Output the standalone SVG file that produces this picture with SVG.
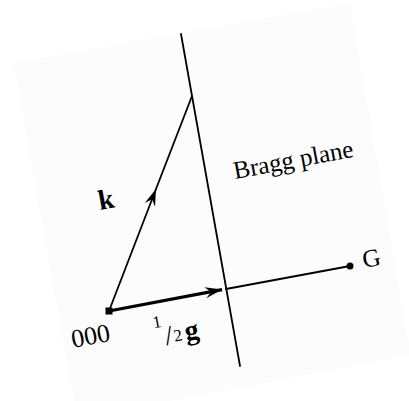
<svg xmlns="http://www.w3.org/2000/svg" width="409" height="401" viewBox="0 0 409 401">
<defs>
<style>
.ln{stroke:#000;stroke-width:1.8;fill:none;stroke-linecap:round}
.thick{stroke:#000;stroke-width:3.2;fill:none}
.t{font-family:"Liberation Serif","Times New Roman",serif;fill:#000}
</style>
<marker id="arr" viewBox="-18 -7 20 14" markerWidth="20" markerHeight="14" refX="0" refY="0" orient="auto" markerUnits="userSpaceOnUse">
<path d="M0,0 L-17,-5.5 L-11,0 L-17,5.5 Z" fill="#000"/>
</marker>
</defs>
<rect width="409" height="401" fill="#fff"/>
<polygon points="13,63 350,3 411,355 77,419" fill="#fcfcfc"/>
<g id="connectors">
<line class="ln" x1="181" y1="34" x2="240" y2="366"/>
<line class="ln" x1="109" y1="311" x2="156" y2="189" marker-end="url(#arr)"/>
<line class="ln" x1="156" y1="189" x2="192" y2="96"/>
<line class="ln" x1="226" y1="289" x2="350" y2="266"/>
<line class="thick" x1="109" y1="311" x2="222" y2="289.6" marker-end="url(#arr)"/>
</g>
<g id="node-origin">
<rect x="105.5" y="307.5" width="7" height="7" fill="#000"/>
<text class="t" font-size="26" transform="translate(73,348) rotate(-10.6)">000</text>
</g>
<g id="node-G">
<circle cx="350" cy="266" r="3.5" fill="#000"/>
<text class="t" font-size="25" transform="translate(364,268) rotate(-10.6)">G</text>
</g>
<g id="label-k">
<text class="t" font-size="28" font-weight="bold" transform="translate(100,210) rotate(-10.6)">k</text>
</g>
<g id="label-half-g">
<text class="t" transform="translate(157,346) rotate(-10.6)"><tspan font-size="17" dy="-18">1</tspan><tspan font-size="28" dy="19" dx="1">/</tspan><tspan font-size="17" dy="-2" dx="1">2</tspan><tspan font-size="28" font-weight="bold" dy="1" dx="3">g</tspan></text>
</g>
<g id="label-bragg">
<text class="t" font-size="25" transform="translate(235,179) rotate(-10.6)">Bragg plane</text>
</g>
</svg>
